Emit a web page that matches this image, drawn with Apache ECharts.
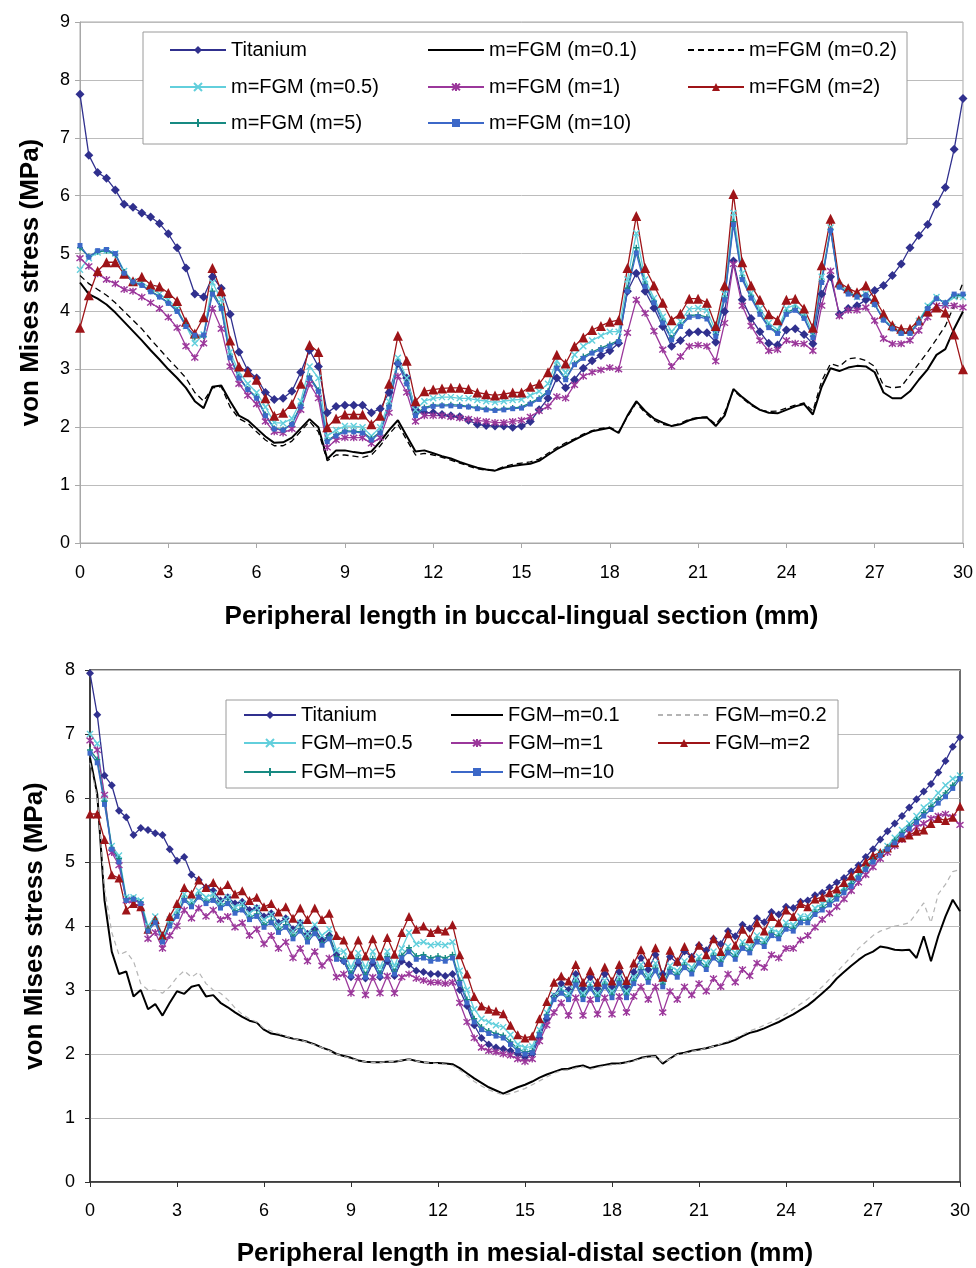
<!DOCTYPE html>
<html><head><meta charset="utf-8">
<script src="https://cdn.jsdelivr.net/npm/echarts/dist/echarts.min.js"></script>
<style>html,body{margin:0;padding:0;background:#fff}#c{width:976px;height:1268px}</style>
</head><body><div id="c"></div>
<script>
// ---------- TOP CHART (buccal-lingual) ----------
const topX = [0,0.3,0.6,0.9,1.2,1.5,1.8,2.1,2.4,2.7,3,3.3,3.6,3.9,4.2,4.5,4.8,5.1,5.4,5.7,6,6.3,6.6,6.9,7.2,7.5,7.8,8.1,8.4,8.7,9,9.3,9.6,9.9,10.2,10.5,10.8,11.1,11.4,11.7,12,12.3,12.6,12.9,13.2,13.5,13.8,14.1,14.4,14.7,15,15.3,15.6,15.9,16.2,16.5,16.8,17.1,17.4,17.7,18,18.3,18.6,18.9,19.2,19.5,19.8,20.1,20.4,20.7,21,21.3,21.6,21.9,22.2,22.5,22.8,23.1,23.4,23.7,24,24.3,24.6,24.9,25.2,25.5,25.8,26.1,26.4,26.7,27,27.3,27.6,27.9,28.2,28.5,28.8,29.1,29.4,29.7,30];
const topTitanium = [7.75,6.7,6.4,6.3,6.1,5.85,5.8,5.7,5.63,5.52, 5.34,5.1,4.75,4.3,4.25,4.6,4.4,3.95,3.3,2.98, 2.85,2.6,2.48,2.5,2.62,2.95,3.33,3.05,2.25,2.36, 2.38,2.38,2.38,2.25,2.32,2.6,3.1,2.85,2.3,2.25, 2.25,2.22,2.2,2.18,2.12,2.05,2.03,2.02,2.02,2.0, 2.02,2.1,2.3,2.5,2.85,2.68,2.82,3.02,3.15,3.24, 3.32,3.45,4.35,4.66,4.35,4.06,3.74,3.4,3.5,3.63, 3.65,3.63,3.47,4.0,4.87,4.2,3.88,3.65,3.45,3.42, 3.68,3.7,3.6,3.44,4.3,4.6,3.95,4.05,4.1,4.2, 4.36,4.45,4.62,4.82,5.1,5.31,5.5,5.85,6.14,6.8, 7.68];
const topM01 = [4.5,4.3,4.22,4.12,3.98,3.82,3.66,3.5,3.33,3.17, 3.0,2.85,2.68,2.45,2.33,2.7,2.72,2.45,2.2,2.12, 1.98,1.84,1.73,1.74,1.82,1.98,2.14,2.0,1.45,1.6, 1.6,1.57,1.55,1.58,1.75,1.95,2.12,1.85,1.58,1.6, 1.55,1.5,1.46,1.4,1.35,1.3,1.27,1.25,1.3,1.33, 1.35,1.37,1.42,1.52,1.62,1.7,1.78,1.86,1.93,1.96, 1.99,1.9,2.2,2.45,2.28,2.15,2.08,2.02,2.05,2.12, 2.16,2.17,2.02,2.2,2.66,2.52,2.4,2.3,2.25,2.24, 2.3,2.36,2.4,2.22,2.7,3.02,2.97,3.03,3.06,3.05, 2.95,2.6,2.5,2.5,2.62,2.82,3.0,3.25,3.35,3.7, 4.0];
const topM02 = [4.62,4.48,4.38,4.28,4.15,4.0,3.85,3.7,3.52,3.35, 3.18,3.02,2.85,2.6,2.45,2.68,2.7,2.35,2.15,2.07, 1.92,1.78,1.68,1.68,1.76,1.93,2.1,1.92,1.42,1.52, 1.52,1.5,1.48,1.52,1.68,1.88,2.05,1.78,1.52,1.55, 1.52,1.48,1.43,1.38,1.33,1.28,1.26,1.26,1.32,1.36, 1.38,1.4,1.45,1.55,1.65,1.73,1.8,1.88,1.94,1.98, 2.0,1.92,2.18,2.42,2.25,2.12,2.05,2.02,2.07,2.14, 2.17,2.18,2.05,2.25,2.64,2.5,2.38,2.3,2.27,2.28, 2.33,2.38,2.42,2.28,2.8,3.1,3.05,3.18,3.2,3.15, 3.05,2.72,2.68,2.7,2.9,3.1,3.3,3.52,3.75,4.1, 4.5];
const topM05 = [4.72,4.92,5.02,5.05,5.0,4.7,4.52,4.5,4.4,4.3, 4.2,4.05,3.75,3.45,3.6,4.5,4.2,3.3,2.95,2.75, 2.6,2.35,2.08,2.07,2.15,2.45,3.05,2.85,1.85,1.95, 2.02,2.02,2.0,1.85,2.0,2.45,3.2,2.85,2.3,2.45, 2.5,2.52,2.52,2.5,2.5,2.47,2.45,2.43,2.45,2.47, 2.48,2.55,2.62,2.75,3.15,2.94,3.25,3.4,3.5,3.58, 3.65,3.65,4.55,5.35,4.55,4.23,3.91,3.65,3.83,4.04, 4.06,4.02,3.66,4.3,5.7,4.66,4.32,4.05,3.8,3.68, 4.05,4.12,3.98,3.62,4.6,5.45,4.45,4.36,4.25,4.3, 4.13,3.87,3.73,3.64,3.64,3.84,4.1,4.25,4.13,4.25, 4.25];
const topM1 = [4.92,4.78,4.65,4.55,4.48,4.38,4.35,4.25,4.15,4.05, 3.9,3.72,3.4,3.2,3.45,4.05,3.7,3.05,2.75,2.55, 2.4,2.1,1.92,1.9,1.97,2.3,2.75,2.5,1.65,1.78, 1.82,1.82,1.82,1.72,1.82,2.25,2.88,2.6,2.1,2.2, 2.2,2.2,2.18,2.16,2.14,2.12,2.1,2.08,2.08,2.1, 2.12,2.18,2.28,2.36,2.53,2.5,2.73,2.88,2.95,2.99, 3.03,3.0,3.63,4.2,3.97,3.66,3.34,3.05,3.22,3.4, 3.42,3.4,3.14,3.8,4.82,4.1,3.75,3.5,3.32,3.34, 3.5,3.45,3.44,3.32,4.1,4.7,3.92,4.02,4.02,4.07, 3.84,3.53,3.44,3.44,3.5,3.67,3.9,4.1,4.1,4.1, 4.07];
const topM2 = [3.72,4.28,4.7,4.85,4.85,4.65,4.52,4.6,4.46,4.43, 4.32,4.18,3.82,3.62,3.9,4.75,4.35,3.5,3.05,2.95, 2.82,2.5,2.2,2.25,2.4,2.75,3.42,3.3,2.0,2.15, 2.22,2.22,2.22,2.05,2.2,2.75,3.58,3.15,2.45,2.62, 2.65,2.67,2.68,2.68,2.66,2.6,2.57,2.55,2.57,2.6, 2.6,2.7,2.75,2.95,3.25,3.1,3.4,3.55,3.68,3.75, 3.82,3.85,4.75,5.65,4.75,4.45,4.15,3.85,3.96,4.22, 4.22,4.15,3.75,4.45,6.03,4.85,4.45,4.2,3.95,3.85, 4.2,4.22,4.05,3.72,4.8,5.6,4.5,4.4,4.33,4.45, 4.22,3.96,3.76,3.7,3.7,3.85,4.0,4.07,3.98,3.6, 3.0];
const topM5 = [5.1,4.95,5.03,5.05,4.98,4.68,4.5,4.46,4.35,4.26, 4.15,4.02,3.76,3.55,3.57,4.35,4.08,3.22,2.87,2.66, 2.52,2.22,1.98,1.96,2.06,2.38,2.88,2.64,1.77,1.87, 1.94,1.93,1.92,1.8,1.92,2.37,3.12,2.76,2.22,2.34, 2.38,2.38,2.39,2.38,2.36,2.34,2.32,2.3,2.32,2.33, 2.35,2.42,2.5,2.62,3.05,2.84,3.1,3.22,3.3,3.37, 3.43,3.5,4.4,5.1,4.47,4.17,3.83,3.54,3.76,3.93, 3.94,3.9,3.6,4.23,5.55,4.58,4.26,3.98,3.74,3.64, 3.98,4.05,3.9,3.57,4.52,5.42,4.43,4.32,4.26,4.29, 4.12,3.86,3.71,3.63,3.63,3.82,4.07,4.23,4.15,4.28, 4.28];
const topM10 = [5.14,4.94,5.05,5.07,5.0,4.66,4.51,4.45,4.34,4.25, 4.14,4.0,3.74,3.59,3.59,4.3,4.05,3.2,2.85,2.65, 2.5,2.2,1.97,1.95,2.05,2.35,2.85,2.62,1.75,1.85, 1.92,1.92,1.9,1.78,1.9,2.35,3.1,2.75,2.2,2.32, 2.36,2.37,2.37,2.36,2.35,2.32,2.3,2.29,2.3,2.32, 2.33,2.4,2.48,2.6,3.02,2.82,3.08,3.19,3.28,3.34, 3.4,3.48,4.35,5.01,4.43,4.15,3.8,3.51,3.74,3.9, 3.91,3.87,3.57,4.2,5.5,4.55,4.23,3.95,3.72,3.62, 3.95,4.02,3.88,3.55,4.5,5.4,4.42,4.3,4.25,4.28, 4.12,3.85,3.7,3.62,3.62,3.8,4.05,4.22,4.15,4.3, 4.3];

// ---------- BOTTOM CHART (mesial-distal) ----------
const botX = [0,0.25,0.5,0.75,1,1.25,1.5,1.75,2,2.25,2.5,2.75,3,3.25,3.5,3.75,4,4.25,4.5,4.75,5,5.25,5.5,5.75,6,6.25,6.5,6.75,7,7.25,7.5,7.75,8,8.25,8.5,8.75,9,9.25,9.5,9.75,10,10.25,10.5,10.75,11,11.25,11.5,11.75,12,12.25,12.5,12.75,13,13.25,13.5,13.75,14,14.25,14.5,14.75,15,15.25,15.5,15.75,16,16.25,16.5,16.75,17,17.25,17.5,17.75,18,18.25,18.5,18.75,19,19.25,19.5,19.75,20,20.25,20.5,20.75,21,21.25,21.5,21.75,22,22.25,22.5,22.75,23,23.25,23.5,23.75,24,24.25,24.5,24.75,25,25.25,25.5,25.75,26,26.25,26.5,26.75,27,27.25,27.5,27.75,28,28.25,28.5,28.75,29,29.25,29.5,29.75,30];
const botTitanium = [7.95,7.3,6.35,6.2,5.8,5.7,5.42,5.53,5.5,5.45, 5.42,5.2,5.02,5.08,4.8,4.72,4.6,4.55,4.4,4.45, 4.35,4.38,4.25,4.28,4.15,4.2,4.05,4.12,3.95,4.05, 3.88,3.95,3.78,3.85,3.55,3.45,3.2,3.42,3.18,3.42, 3.2,3.45,3.22,3.45,3.4,3.3,3.28,3.25,3.25,3.22, 3.25,3.0,2.75,2.45,2.25,2.15,2.1,2.08,2.05,2.0, 1.95,2.0,2.25,2.55,2.9,3.1,3.0,3.25,3.02,3.2, 3.02,3.25,3.05,3.28,3.05,3.28,3.5,3.32,3.55,3.25, 3.52,3.42,3.6,3.52,3.7,3.62,3.8,3.72,3.92,3.84, 4.02,3.96,4.12,4.06,4.22,4.18,4.3,4.28,4.38,4.4, 4.48,4.52,4.6,4.68,4.75,4.85,4.95,5.08,5.2,5.35, 5.48,5.6,5.72,5.85,5.98,6.1,6.22,6.4,6.58,6.8, 6.95];
const botM01 = [6.63,6.06,4.4,3.6,3.25,3.29,2.9,3.0,2.7,2.78, 2.6,2.8,2.98,2.94,3.05,3.08,2.9,2.92,2.8,2.73, 2.65,2.58,2.52,2.49,2.38,2.32,2.3,2.27,2.24,2.22, 2.19,2.15,2.1,2.06,2.0,1.97,1.94,1.9,1.88,1.87, 1.87,1.88,1.88,1.9,1.92,1.89,1.87,1.86,1.86,1.85, 1.84,1.78,1.7,1.62,1.55,1.48,1.43,1.38,1.43,1.48, 1.52,1.57,1.63,1.68,1.72,1.76,1.77,1.8,1.82,1.78, 1.81,1.83,1.85,1.85,1.87,1.9,1.94,1.96,1.97,1.85, 1.93,2.0,2.02,2.05,2.07,2.09,2.12,2.15,2.18,2.22, 2.28,2.33,2.36,2.4,2.45,2.5,2.56,2.62,2.69,2.76, 2.85,2.95,3.05,3.18,3.28,3.38,3.47,3.55,3.6,3.68, 3.66,3.63,3.62,3.63,3.5,3.84,3.45,3.84,4.15,4.41, 4.23];
const botM02 = [6.55,6.0,4.6,3.9,3.55,3.6,3.45,3.1,3.0,3.0, 2.95,3.05,3.2,3.3,3.2,3.28,3.1,3.0,2.95,2.85, 2.72,2.62,2.55,2.5,2.4,2.36,2.32,2.28,2.24,2.22, 2.18,2.14,2.1,2.05,2.0,1.96,1.93,1.9,1.88,1.87, 1.87,1.88,1.88,1.9,1.92,1.89,1.87,1.86,1.85,1.84, 1.82,1.75,1.66,1.57,1.5,1.44,1.4,1.36,1.38,1.42, 1.46,1.52,1.58,1.64,1.7,1.74,1.75,1.78,1.8,1.76, 1.79,1.81,1.83,1.84,1.86,1.89,1.93,1.95,1.96,1.87, 1.92,1.99,2.01,2.04,2.06,2.09,2.12,2.16,2.2,2.25, 2.3,2.36,2.4,2.45,2.5,2.56,2.62,2.7,2.78,2.86, 2.95,3.05,3.17,3.28,3.4,3.52,3.65,3.75,3.85,3.92, 3.96,4.0,4.02,4.05,4.2,4.36,4.05,4.5,4.65,4.85, 4.88];
const botM05 = [7.0,6.85,6.0,5.25,5.1,4.45,4.45,4.4,4.0,4.15, 3.85,4.1,4.25,4.5,4.4,4.55,4.45,4.5,4.38,4.45, 4.3,4.35,4.2,4.28,4.1,4.18,4.02,4.1,3.92,4.05, 3.88,4.02,3.85,3.95,3.62,3.6,3.35,3.58,3.35,3.6, 3.35,3.6,3.38,3.65,3.9,3.72,3.75,3.7,3.72,3.7, 3.75,3.3,3.0,2.7,2.55,2.5,2.45,2.42,2.3,2.15, 2.1,2.12,2.38,2.65,2.92,3.02,2.95,3.18,2.95,3.1, 2.95,3.15,2.98,3.2,2.98,3.2,3.4,3.22,3.42,3.15, 3.38,3.3,3.45,3.35,3.52,3.42,3.6,3.5,3.68,3.58, 3.75,3.68,3.85,3.78,3.95,3.9,4.05,4.02,4.15,4.15, 4.28,4.35,4.42,4.5,4.6,4.7,4.82,4.95,5.05,5.15, 5.25,5.38,5.5,5.6,5.72,5.85,5.95,6.08,6.2,6.3, 6.35];
const botM1 = [6.9,6.75,6.05,5.15,4.95,4.4,4.35,4.3,3.8,3.9, 3.65,3.85,4.0,4.25,4.12,4.28,4.15,4.25,4.1,4.15, 3.98,4.05,3.85,3.95,3.72,3.85,3.65,3.75,3.5,3.65, 3.45,3.6,3.38,3.5,3.2,3.25,2.95,3.2,2.92,3.2, 2.95,3.22,2.95,3.2,3.25,3.18,3.15,3.12,3.12,3.1, 3.12,2.8,2.5,2.25,2.1,2.05,2.03,2.0,1.98,1.92, 1.88,1.92,2.2,2.45,2.65,2.8,2.6,2.88,2.6,2.85, 2.62,2.88,2.62,2.9,2.65,2.9,3.05,2.85,3.05,2.65, 2.98,2.85,3.05,2.92,3.1,2.98,3.18,3.05,3.25,3.12, 3.32,3.22,3.42,3.35,3.55,3.5,3.65,3.65,3.78,3.85, 3.98,4.1,4.2,4.3,4.42,4.55,4.68,4.8,4.92,5.05, 5.15,5.25,5.35,5.45,5.55,5.6,5.68,5.72,5.75,5.7, 5.58];
const botM2 = [5.75,5.75,5.35,4.8,4.75,4.25,4.35,4.3,3.95,4.1, 3.85,4.15,4.35,4.6,4.5,4.72,4.6,4.68,4.55,4.65, 4.5,4.55,4.4,4.45,4.3,4.35,4.22,4.3,4.12,4.28, 4.1,4.28,4.1,4.2,3.85,3.78,3.55,3.78,3.53,3.8, 3.53,3.82,3.56,3.9,4.15,3.95,4.0,3.9,3.95,3.92, 4.02,3.55,3.25,2.9,2.75,2.7,2.67,2.63,2.45,2.3, 2.25,2.28,2.55,2.82,3.12,3.22,3.14,3.4,3.12,3.3, 3.12,3.36,3.14,3.4,3.15,3.42,3.63,3.43,3.66,3.2, 3.62,3.45,3.68,3.5,3.7,3.55,3.8,3.6,3.88,3.7, 3.95,3.8,4.05,3.92,4.15,4.05,4.25,4.15,4.35,4.3, 4.42,4.45,4.52,4.58,4.68,4.78,4.9,5.0,5.1,5.15, 5.22,5.3,5.38,5.42,5.48,5.5,5.6,5.68,5.65,5.7, 5.87];
const botM5 = [6.75,6.6,5.95,5.22,5.05,4.42,4.43,4.37,3.95,4.08, 3.78,4.03,4.18,4.43,4.33,4.48,4.38,4.43,4.31,4.38, 4.23,4.28,4.13,4.19,4.02,4.09,3.94,4.02,3.84,3.96, 3.79,3.92,3.74,3.84,3.52,3.49,3.26,3.49,3.24,3.49, 3.26,3.52,3.29,3.54,3.66,3.53,3.55,3.5,3.53,3.5, 3.55,3.15,2.85,2.55,2.42,2.36,2.32,2.29,2.19,2.08, 2.03,2.05,2.33,2.61,2.88,2.98,2.88,3.12,2.89,3.05, 2.89,3.09,2.92,3.14,2.92,3.14,3.32,3.16,3.34,3.09, 3.32,3.24,3.39,3.29,3.46,3.36,3.54,3.44,3.62,3.52, 3.69,3.62,3.79,3.72,3.89,3.84,3.99,3.96,4.09,4.09, 4.22,4.29,4.37,4.46,4.56,4.66,4.78,4.91,5.03,5.13, 5.23,5.34,5.46,5.56,5.66,5.77,5.87,5.98,6.08,6.2, 6.33];
const botM10 = [6.7,6.55,5.9,5.2,5.0,4.4,4.42,4.35,3.92,4.05, 3.75,4.0,4.15,4.4,4.3,4.45,4.35,4.4,4.28,4.35, 4.2,4.25,4.1,4.15,3.98,4.05,3.9,3.98,3.8,3.92, 3.75,3.88,3.7,3.8,3.48,3.45,3.22,3.45,3.2,3.45, 3.22,3.48,3.25,3.5,3.6,3.48,3.5,3.45,3.48,3.45, 3.5,3.1,2.8,2.5,2.38,2.32,2.28,2.25,2.15,2.05, 2.0,2.02,2.3,2.58,2.85,2.95,2.85,3.08,2.85,3.02, 2.85,3.05,2.88,3.1,2.88,3.1,3.28,3.12,3.3,3.05, 3.28,3.2,3.35,3.25,3.42,3.32,3.5,3.4,3.58,3.48, 3.65,3.58,3.75,3.68,3.85,3.8,3.95,3.92,4.05,4.05, 4.18,4.25,4.33,4.42,4.52,4.62,4.75,4.88,5.0,5.1, 5.2,5.3,5.42,5.52,5.62,5.72,5.82,5.92,6.02,6.15, 6.3];

// ---------- names ----------
const topNames = ['Titanium','m=FGM (m=0.1)','m=FGM (m=0.2)','m=FGM (m=0.5)','m=FGM (m=1)','m=FGM (m=2)','m=FGM (m=5)','m=FGM (m=10)'];
const botNames = ['Titanium','FGM\u2013m=0.1','FGM\u2013m=0.2','FGM\u2013m=0.5','FGM\u2013m=1','FGM\u2013m=2','FGM\u2013m=5','FGM\u2013m=10'];

const FONT = "'Liberation Sans', Arial, sans-serif";
const SYM = {
  diamond: 'diamond',
  x: 'path://M0,0L10,10M10,0L0,10',
  star: 'path://M1,1L9,9M9,1L1,9M5,0L5,10',
  tri: 'triangle',
  plus: 'path://M0,5L10,5M5,0L5,10',
  sq: 'rect'
};
const COL = {ti:'#30308e', k:'#000000', c:'#62cfdc', p:'#9b379b', r:'#9e1418', t:'#178a82', b:'#3c68c8'};

function pairs(xs, ys){ return xs.map((x,i)=>[x, ys[i]]); }

function markSeries(name, xs, ys, idx, color, symbol, size, stroke){
  return {
    type:'line', name, xAxisIndex:idx, yAxisIndex:idx, data:pairs(xs,ys),
    symbol, symbolSize:size, showSymbol:true,
    lineStyle:{color, width:1.3},
    itemStyle:{color, borderColor:color, borderWidth: stroke ? 1.4 : 0},
    emphasis:{disabled:true}, z:2
  };
}
function plainSeries(name, xs, ys, idx, color, width, type){
  return {
    type:'line', name, xAxisIndex:idx, yAxisIndex:idx, data:pairs(xs,ys),
    symbol:'none', showSymbol:false,
    lineStyle:{color, width, type},
    itemStyle:{color},
    emphasis:{disabled:true}, z:2
  };
}

const series = [
  markSeries(topNames[0], topX, topTitanium, 0, COL.ti, SYM.diamond, 9, false),
  plainSeries(topNames[1], topX, topM01, 0, COL.k, 2, 'solid'),
  plainSeries(topNames[2], topX, topM02, 0, COL.k, 1.3, [6,4]),
  markSeries(topNames[3], topX, topM05, 0, COL.c, SYM.x, 6, true),
  markSeries(topNames[4], topX, topM1, 0, COL.p, SYM.star, 7, true),
  markSeries(topNames[5], topX, topM2, 0, COL.r, SYM.tri, 10, false),
  markSeries(topNames[6], topX, topM5, 0, COL.t, SYM.plus, 6, true),
  markSeries(topNames[7], topX, topM10, 0, COL.b, SYM.sq, 5, false),

  markSeries(botNames[0], botX, botTitanium, 1, COL.ti, SYM.diamond, 8, false),
  plainSeries(botNames[1], botX, botM01, 1, COL.k, 2, 'solid'),
  plainSeries(botNames[2], botX, botM02, 1, '#b4b4b4', 1.2, [5,4]),
  markSeries(botNames[3], botX, botM05, 1, COL.c, SYM.x, 6, true),
  markSeries(botNames[4], botX, botM1, 1, COL.p, SYM.star, 7, true),
  markSeries(botNames[5], botX, botM2, 1, COL.r, SYM.tri, 9, false),
  markSeries(botNames[6], botX, botM5, 1, COL.t, SYM.plus, 6, true),
  markSeries(botNames[7], botX, botM10, 1, COL.b, SYM.sq, 5, false)
];

// names of line-only series (legend shows only the line)
const lineOnly = [topNames[1], topNames[2], botNames[1], botNames[2]];

// legend layout: [name, left, top, iconWidth]
const legendLayout = [
  [topNames[0],169,40,56],[topNames[1],427,40,56],[topNames[2],687,40,56],
  [topNames[3],169,77,56],[topNames[4],427,77,56],[topNames[5],687,77,56],
  [topNames[6],169,113,56],[topNames[7],427,113,56],
  ['Titanium',243,705,52],[botNames[1],450,705,52],[botNames[2],657,705,52],
  [botNames[3],243,733,52],[botNames[4],450,733,52],[botNames[5],657,733,52],
  [botNames[6],243,762,52],[botNames[7],450,762,52]
];
const legends = legendLayout.map(([n,l,t,w])=>({
  data:[lineOnly.includes(n) ? {name:n, itemStyle:{opacity:0}} : n],
  left:l, top:t, orient:'horizontal', padding:0, itemGap:0,
  itemWidth:w, itemHeight:10, selectedMode:false, z:5,
  textStyle:{fontFamily:FONT, fontSize:20, color:'#000'}
}));

function yAxis(idx, max, lineColor, lineW, nameGap, margin){
  return {
    type:'value', gridIndex:idx, min:0, max, interval:1,
    name:'von Mises stress (MPa)', nameLocation:'middle', nameGap,
    nameTextStyle:{fontFamily:FONT, fontSize:26, fontWeight:'bold', color:'#000'},
    axisLine:{show:true, lineStyle:{color:lineColor, width:lineW}},
    axisTick:{show:true, length:5, lineStyle:{color:lineColor}},
    axisLabel:{fontFamily:FONT, fontSize:18, color:'#000', margin},
    splitLine:{show:true, lineStyle:{color:'#bcbcbc', width:1}}
  };
}
function xAxis(idx, name, lineColor, lineW, nameGap, margin){
  return {
    type:'value', gridIndex:idx, min:0, max:30, interval:3,
    name, nameLocation:'middle', nameGap,
    nameTextStyle:{fontFamily:FONT, fontSize:26, fontWeight:'bold', color:'#000'},
    axisLine:{show:true, onZero:false, lineStyle:{color:lineColor, width:lineW}},
    axisTick:{show:true, length:5, lineStyle:{color:lineColor}},
    axisLabel:{fontFamily:FONT, fontSize:18, color:'#000', margin},
    splitLine:{show:false}
  };
}

const option = {
  animation:false,
  backgroundColor:'#ffffff',
  grid:[
    {left:80, top:22, width:883, height:521, show:true, borderColor:'#a8a8a8', borderWidth:1, backgroundColor:'transparent'},
    {left:90, top:670, width:870, height:512, show:true, borderColor:'#404040', borderWidth:1.5, backgroundColor:'transparent'}
  ],
  xAxis:[
    xAxis(0, 'Peripheral length in buccal-lingual section (mm)', '#a8a8a8', 1, 61, 21),
    xAxis(1, 'Peripheral length in mesial-distal section (mm)', '#303030', 1.5, 59, 20)
  ],
  yAxis:[
    yAxis(0, 9, '#a8a8a8', 1, 36, 10),
    yAxis(1, 8, '#303030', 1.5, 42, 15)
  ],
  legend: legends,
  graphic:[
    {type:'rect', z:3, shape:{x:143, y:32, width:764, height:112}, style:{fill:'#fff', stroke:'#9a9a9a', lineWidth:1}},
    {type:'rect', z:3, shape:{x:226, y:700, width:612, height:88}, style:{fill:'#fff', stroke:'#9a9a9a', lineWidth:1}}
  ],
  series
};

const chart = echarts.init(document.getElementById('c'), null, {renderer:'canvas'});
chart.setOption(option);
</script></body></html>
